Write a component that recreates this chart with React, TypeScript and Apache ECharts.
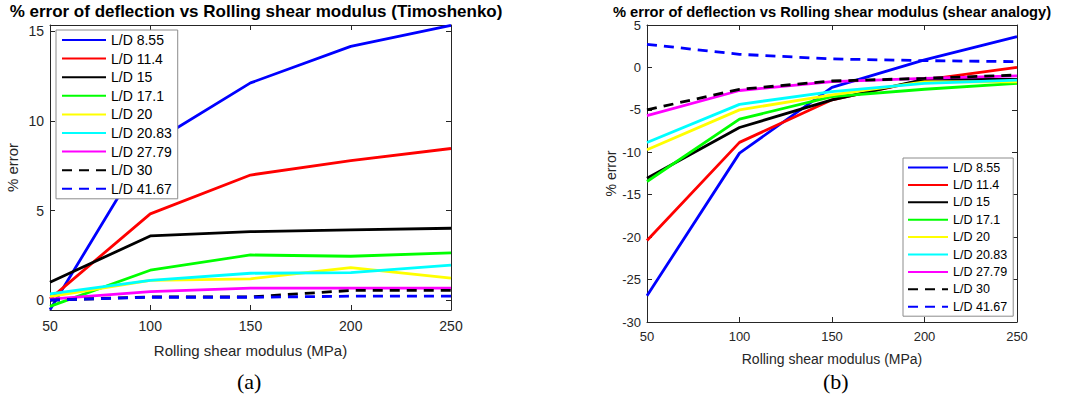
import React, { useEffect, useRef } from "react";
import * as echarts from "echarts";

const xValues = [50, 100, 150, 200, 250];
const seriesNames = ["L/D 8.55", "L/D 11.4", "L/D 15", "L/D 17.1", "L/D 20", "L/D 20.83", "L/D 27.79", "L/D 30", "L/D 41.67"];
const seriesColors = ["#0000ff", "#ff0000", "#000000", "#00ff00", "#ffff00", "#00ffff", "#ff00ff", "#000000", "#0000ff"];
const seriesDashed = [false, false, false, false, false, false, false, true, true];

// (a) Timoshenko
const timoLD855 = [-0.54, 8.7, 12.12, 14.16, 15.33];
const timoLD114 = [0.07, 4.81, 6.98, 7.78, 8.46];
const timoLD15 = [1.0, 3.58, 3.82, 3.92, 4.01];
const timoLD171 = [-0.35, 1.67, 2.52, 2.45, 2.64];
const timoLD20 = [0.2, 1.1, 1.19, 1.82, 1.23];
const timoLD2083 = [0.35, 1.1, 1.5, 1.54, 1.95];
const timoLD2779 = [0.06, 0.48, 0.67, 0.67, 0.67];
const timoLD30 = [0.0, 0.18, 0.18, 0.54, 0.54];
const timoLD4167 = [0.0, 0.16, 0.16, 0.22, 0.22];

// (b) shear analogy
const shearLD855 = [-26.9, -10.1, -2.35, 0.88, 3.62];
const shearLD114 = [-20.4, -8.83, -3.82, -1.48, 0.0];
const shearLD15 = [-13.05, -7.08, -3.83, -1.4, -1.4];
const shearLD171 = [-13.44, -6.1, -3.43, -2.57, -1.87];
const shearLD20 = [-9.71, -5.0, -3.24, -1.7, -1.7];
const shearLD2083 = [-8.85, -4.35, -2.85, -1.87, -1.5];
const shearLD2779 = [-5.67, -2.72, -1.67, -1.28, -1.0];
const shearLD30 = [-5.0, -2.58, -1.6, -1.28, -0.9];
const shearLD4167 = [2.72, 1.55, 1.0, 0.8, 0.68];

const timoData = [timoLD855, timoLD114, timoLD15, timoLD171, timoLD20, timoLD2083, timoLD2779, timoLD30, timoLD4167];
const shearData = [shearLD855, shearLD114, shearLD15, shearLD171, shearLD20, shearLD2083, shearLD2779, shearLD30, shearLD4167];

const titleA = "% error of deflection vs Rolling shear modulus (Timoshenko)";
const titleB = "% error of deflection vs Rolling shear modulus (shear analogy)";
const xName = "Rolling shear modulus (MPa)";
const yName = "% error";

const FONT = "'Liberation Sans', Arial, sans-serif";
const SERIF = "'Liberation Serif', 'Times New Roman', serif";
const AXIS_COLOR = "#262626";

export default function App() {
  const ref = useRef<HTMLDivElement>(null);
  useEffect(() => {
    if (!ref.current) return;
    const chart = echarts.init(ref.current, null, { renderer: "svg" });

    const mkSeries = (data: number[][], gridIdx: number) =>
      data.map((arr, i) => ({
        name: seriesNames[i],
        type: "line",
        xAxisIndex: gridIdx * 2,
        yAxisIndex: gridIdx * 2,
        data: xValues.map((x, j) => [x, arr[j]]),
        symbol: "none",
        showSymbol: false,
        clip: true,
        lineStyle: { color: seriesColors[i], width: 2.8, type: seriesDashed[i] ? [10, 7] : "solid" },
        itemStyle: { color: seriesColors[i], opacity: 0 },
        emphasis: { disabled: true },
      }));

    const mkX = (grid: number, pos: "bottom" | "top", fs: number, nfs: number, margin: number, showName: boolean, nameGap: number) => ({
      type: "value",
      gridIndex: grid,
      position: pos,
      min: 50,
      max: 250,
      interval: 50,
      name: showName ? xName : "",
      nameLocation: "middle",
      nameGap,
      nameTextStyle: { fontSize: nfs, color: AXIS_COLOR, fontFamily: FONT },
      axisLine: { show: true, onZero: false, lineStyle: { color: AXIS_COLOR, width: 1 } },
      axisTick: { show: true, inside: true, length: 5, lineStyle: { color: AXIS_COLOR } },
      axisLabel: { show: pos === "bottom", fontSize: fs, color: AXIS_COLOR, fontFamily: FONT, margin },
      splitLine: { show: false },
    });

    const legendBase = {
      orient: "vertical",
      data: seriesNames,
      borderColor: "#8c8c8c",
      borderWidth: 1,
      backgroundColor: "#ffffff",
      selectedMode: false,
      itemStyle: { opacity: 0, borderWidth: 0 },
    };

    const option: any = {
      animation: false,
      backgroundColor: "#ffffff",
      title: [
        {
          text: titleA,
          left: 256,
          top: 3,
          padding: 0,
          textAlign: "center",
          textStyle: { fontSize: 17, fontWeight: "bold", color: "#000", fontFamily: FONT },
        },
        {
          text: titleB,
          left: 832,
          top: 4,
          padding: 0,
          textAlign: "center",
          textStyle: { fontSize: 14.7, fontWeight: "bold", color: "#000", fontFamily: FONT },
        },
      ],
      grid: [
        { left: 50, top: 25, width: 401, height: 285, containLabel: false },
        { left: 647, top: 25, width: 370, height: 297, containLabel: false },
      ],
      xAxis: [
        mkX(0, "bottom", 14, 15, 9, true, 33),
        mkX(0, "top", 14, 15, 9, false, 0),
        mkX(1, "bottom", 13, 14, 8, true, 30),
        mkX(1, "top", 13, 14, 8, false, 0),
      ],
      yAxis: [
        {
          type: "value",
          gridIndex: 0,
          position: "left",
          min: -0.55,
          max: 15.35,
          splitNumber: 3,
          name: yName,
          nameLocation: "middle",
          nameGap: 30,
          nameTextStyle: { fontSize: 15, color: AXIS_COLOR, fontFamily: FONT },
          axisLine: { show: true, onZero: false, lineStyle: { color: AXIS_COLOR } },
          axisTick: { show: true, inside: true, length: 5, lineStyle: { color: AXIS_COLOR } },
          axisLabel: { fontSize: 14, color: AXIS_COLOR, fontFamily: FONT, margin: 6, showMinLabel: false, showMaxLabel: false },
          splitLine: { show: false },
        },
        {
          type: "value",
          gridIndex: 0,
          position: "right",
          min: -0.55,
          max: 15.35,
          splitNumber: 3,
          axisLine: { show: true, onZero: false, lineStyle: { color: AXIS_COLOR } },
          axisTick: { show: true, inside: true, length: 5, lineStyle: { color: AXIS_COLOR } },
          axisLabel: { show: false },
          splitLine: { show: false },
        },
        {
          type: "value",
          gridIndex: 1,
          position: "left",
          min: -30,
          max: 5,
          interval: 5,
          name: yName,
          nameLocation: "middle",
          nameGap: 29,
          nameTextStyle: { fontSize: 14, color: AXIS_COLOR, fontFamily: FONT },
          axisLine: { show: true, onZero: false, lineStyle: { color: AXIS_COLOR } },
          axisTick: { show: true, inside: true, length: 5, lineStyle: { color: AXIS_COLOR } },
          axisLabel: { fontSize: 13, color: AXIS_COLOR, fontFamily: FONT, margin: 6 },
          splitLine: { show: false },
        },
        {
          type: "value",
          gridIndex: 1,
          position: "right",
          min: -30,
          max: 5,
          interval: 5,
          axisLine: { show: true, onZero: false, lineStyle: { color: AXIS_COLOR } },
          axisTick: { show: true, inside: true, length: 5, lineStyle: { color: AXIS_COLOR } },
          axisLabel: { show: false },
          splitLine: { show: false },
        },
      ],
      legend: [
        {
          ...legendBase,
          left: 56,
          top: 30,
          itemWidth: 44,
          itemHeight: 14,
          itemGap: 4.6,
          padding: [3, 6, 3, 5],
          textStyle: { fontSize: 14, color: "#000", fontFamily: FONT },
        },
        {
          ...legendBase,
          left: 903,
          top: 158,
          itemWidth: 40,
          itemHeight: 12,
          itemGap: 4.4,
          padding: [3, 6, 3, 4],
          textStyle: { fontSize: 12.5, color: "#000", fontFamily: FONT },
        },
      ],
      graphic: [
        {
          type: "text",
          left: 237,
          top: 370,
          style: { text: "(a)", fontSize: 22, fill: "#000", fontFamily: SERIF },
        },
        {
          type: "text",
          left: 823,
          top: 370,
          style: { text: "(b)", fontSize: 22, fill: "#000", fontFamily: SERIF },
        },
      ],
      series: [...mkSeries(timoData, 0), ...mkSeries(shearData, 1)],
    };

    chart.setOption(option);
    return () => chart.dispose();
  }, []);

  return (
    <div
      ref={ref}
      style={{ position: "fixed", left: 0, top: 0, width: 1066, height: 400, background: "#fff" }}
    />
  );
}
